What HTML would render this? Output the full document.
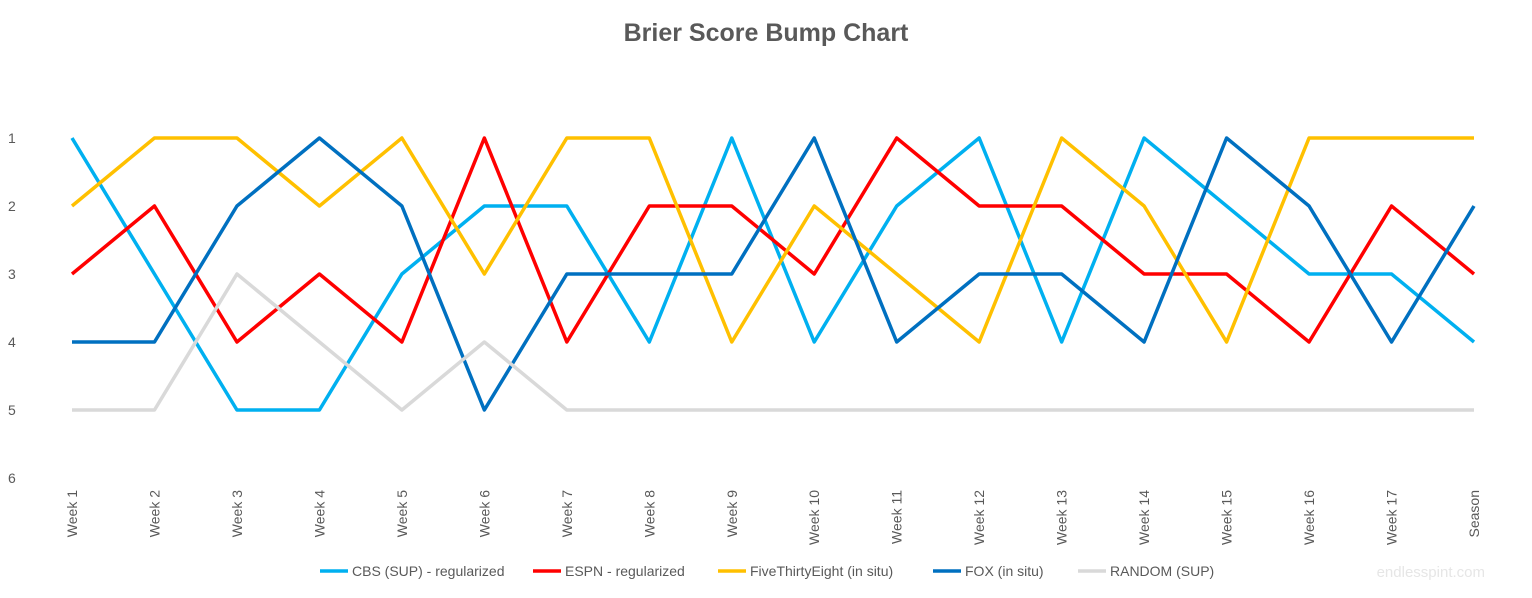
<!DOCTYPE html>
<html><head><meta charset="utf-8"><style>
body{margin:0;background:#fff;font-family:"Liberation Sans",sans-serif}
</style></head><body>
<svg id="chart" width="1532" height="593" xmlns="http://www.w3.org/2000/svg">
<text x="766" y="41" text-anchor="middle" font-size="25" font-weight="bold" fill="#595959" font-family="Liberation Sans, sans-serif">Brier Score Bump Chart</text>
<g id="yaxis"></g>
<g id="xaxis"></g>
<g id="series"></g>
<g id="legend"></g>
<text x="1485" y="577" text-anchor="end" font-size="15" fill="#e6e6e6">endlesspint.com</text>
</svg>
<script>
const categories=["Week 1","Week 2","Week 3","Week 4","Week 5","Week 6","Week 7","Week 8","Week 9","Week 10","Week 11","Week 12","Week 13","Week 14","Week 15","Week 16","Week 17","Season"];
const yTicks=[1,2,3,4,5,6];
const seriesNames=["CBS (SUP) - regularized","ESPN - regularized","FiveThirtyEight (in situ)","FOX (in situ)","RANDOM (SUP)"];
const cbs=[1,3,5,5,3,2,2,4,1,4,2,1,4,1,2,3,3,4];
const espn=[3,2,4,3,4,1,4,2,2,3,1,2,2,3,3,4,2,3];
const fte=[2,1,1,2,1,3,1,1,4,2,3,4,1,2,4,1,1,1];
const fox=[4,4,2,1,2,5,3,3,3,1,4,3,3,4,1,2,4,2];
const rnd=[5,5,3,4,5,4,5,5,5,5,5,5,5,5,5,5,5,5];
const colors=["#00b0f0","#ff0000","#ffc000","#0070c0","#d9d9d9"];
const NS="http://www.w3.org/2000/svg";
const x0=72,x1=1474,yTop=138,yStep=68;
const xs=i=>x0+i*(x1-x0)/(categories.length-1);
const ys=v=>yTop+(v-1)*yStep;
function mk(t,a,p,txt){const e=document.createElementNS(NS,t);for(const k in a)e.setAttribute(k,a[k]);if(txt!==undefined)e.textContent=txt;p.appendChild(e);return e;}
const ya=document.getElementById('yaxis');
yTicks.forEach(v=>{const t=mk('text',{x:8,y:ys(v)+5,'font-size':14,fill:'#595959'},ya,v);

});
const xa=document.getElementById('xaxis');
categories.forEach((c,i)=>{const t=mk('text',{transform:`translate(${xs(i)+5},490) rotate(-90)`,'text-anchor':'end','font-size':14,fill:'#595959'},xa,c);

});
const sg=document.getElementById('series');
[cbs,espn,fte,fox,rnd].forEach((d,s)=>{const pts=d.map((v,i)=>xs(i)+','+ys(v)).join(' ');
const p=mk('polyline',{points:pts,fill:'none',stroke:colors[s],'stroke-width':3.5,'stroke-linejoin':'round'},sg);

});
const lg=document.getElementById('legend');
const lx=[320,533,718,933,1078];
seriesNames.forEach((n,s)=>{const g=mk('g',{},lg);


mk('line',{x1:lx[s],y1:571,x2:lx[s]+28,y2:571,stroke:colors[s],'stroke-width':3.5},g);
mk('text',{x:lx[s]+32,y:576,'font-size':14,fill:'#595959'},g,n);});
</script>
</body></html>
